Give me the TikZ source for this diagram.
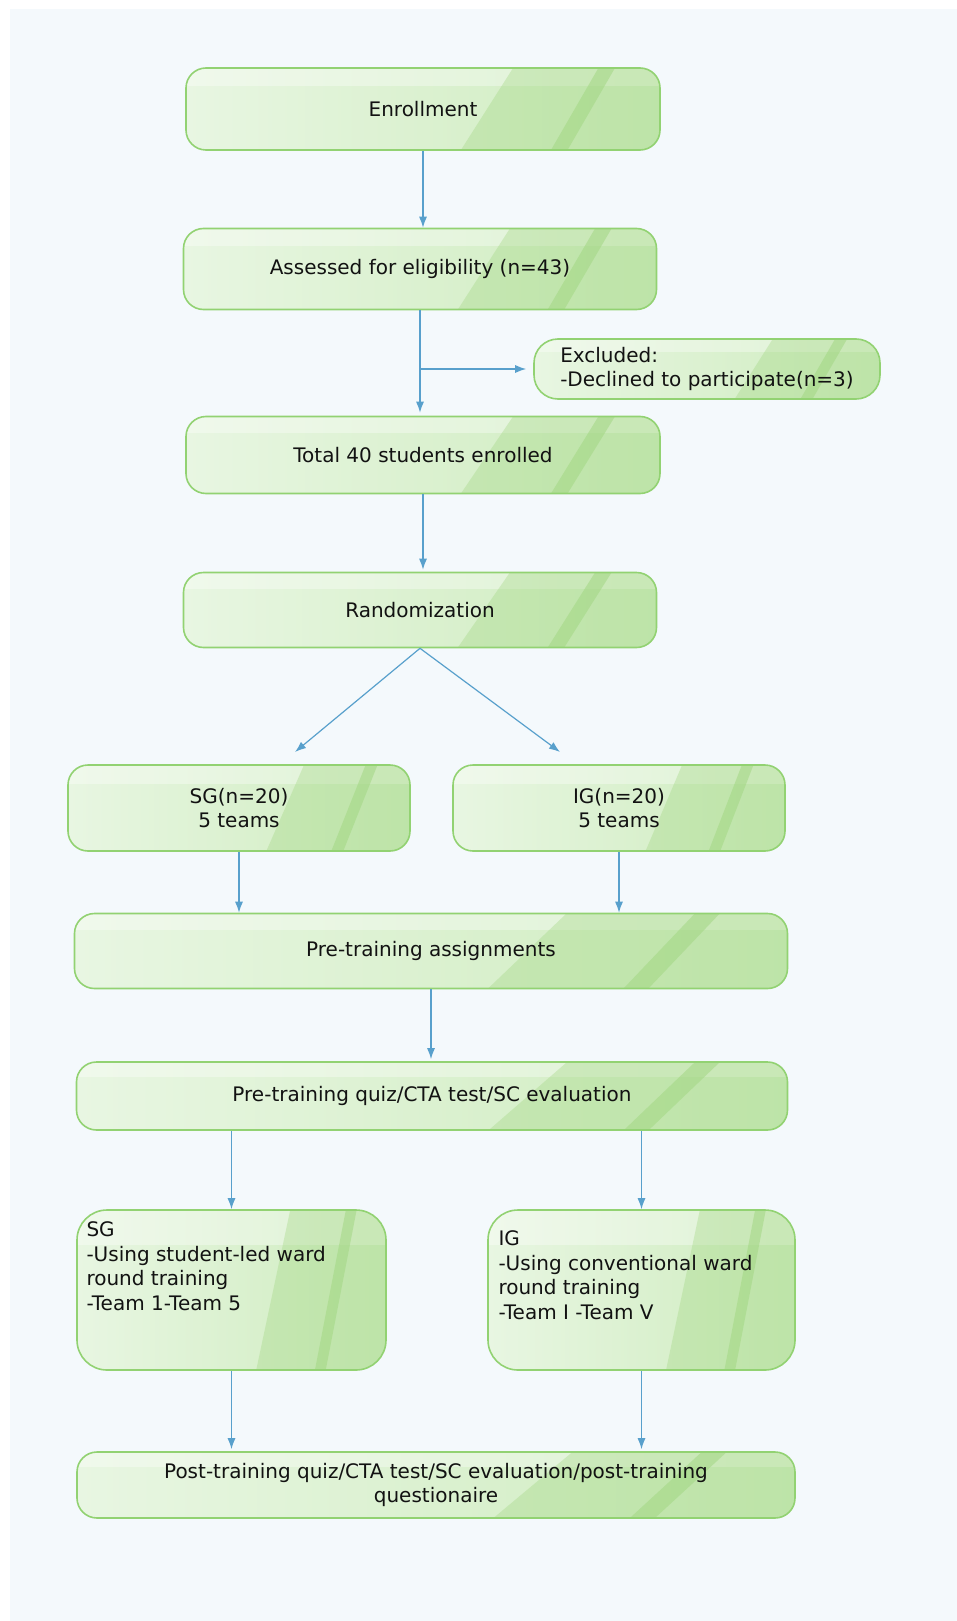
\documentclass[tikz,border=0pt]{standalone}
\usepackage{fontspec}
\setmainfont{DejaVu Sans}
\usetikzlibrary{arrows.meta,positioning,calc}
\definecolor{bgblue}{RGB}{244,249,252}
\definecolor{boxlight}{RGB}{232,246,226}
\definecolor{boxmid}{RGB}{206,236,190}
\definecolor{boxdark}{RGB}{160,214,128}
\definecolor{boxline}{RGB}{146,210,114}
\definecolor{arrblue}{RGB}{88,160,204}
\definecolor{txt}{RGB}{18,18,18}

\begin{document}
\begin{tikzpicture}[x=1pt,y=-1pt,
  every node/.style={font=\fontsize{20}{24.5}\selectfont,text=txt},
  stage/.style={draw=boxline,line width=1.6pt,rounded corners=20pt,
    left color=boxlight,right color=boxmid,align=center,inner sep=0pt,
    path picture={
      \fill[sharp corners,white,opacity=0.35] (path picture bounding box.north west) rectangle ($(path picture bounding box.north east)!0.22!(path picture bounding box.south east)$);
      \fill[sharp corners,boxdark,opacity=0.35] ($(path picture bounding box.south west)!0.58!(path picture bounding box.south east)$) -- ($(path picture bounding box.north west)!0.69!(path picture bounding box.north east)$) -- (path picture bounding box.north east) -- (path picture bounding box.south east) -- cycle;
      \fill[sharp corners,boxdark,opacity=0.5] ($(path picture bounding box.south west)!0.77!(path picture bounding box.south east)$) -- ($(path picture bounding box.north west)!0.87!(path picture bounding box.north east)$) -- ($(path picture bounding box.north west)!0.905!(path picture bounding box.north east)$) -- ($(path picture bounding box.south west)!0.805!(path picture bounding box.south east)$) -- cycle;
    }},
  arr/.style={-{Latex[length=11pt,width=8pt]},draw=arrblue,line width=1.2pt}]

\fill[bgblue] (10,9) rectangle (957,1621);
\useasboundingbox (0,0) rectangle (957,1621);

\node[stage,minimum width=474pt,minimum height=82pt] (enrol) at (423,109) {Enrollment};
\node[stage,minimum width=473pt,minimum height=81pt] (assess) at (420,269) {Assessed for eligibility (n=43)};
\node[stage,minimum width=346pt,minimum height=60pt,rounded corners=24pt,align=left] (excl) at (707,369) {Excluded:\\-Declined to participate(n=3)};
\node[stage,minimum width=474pt,minimum height=77pt] (total) at (423,455) {Total 40 students enrolled};
\node[stage,minimum width=473pt,minimum height=75pt] (rand) at (420,610) {Randomization};
\node[stage,minimum width=342pt,minimum height=86pt] (sgn) at (239,808) {SG(n=20)\\5 teams};
\node[stage,minimum width=332pt,minimum height=86pt] (ign) at (619,808) {IG(n=20)\\5 teams};
\node[stage,minimum width=713pt,minimum height=75pt] (pretask) at (431,951) {Pre-training assignments};
\node[stage,minimum width=711pt,minimum height=68pt] (prequiz) at (432,1096) {Pre-training quiz/CTA test/SC evaluation};
\node[stage,minimum width=309pt,rounded corners=30pt] (sgtrain) at (231.5,1290)
  {\parbox[c][160pt][t]{290pt}{\vspace*{12pt}SG\\-Using student-led ward\\round training\\-Team 1-Team 5}};
\node[stage,minimum width=307pt,rounded corners=30pt] (igtrain) at (641.5,1290)
  {\parbox[c][160pt][t]{286pt}{\vspace*{21pt}IG\\-Using conventional ward\\round training\\-Team I -Team V}};
\node[stage,minimum width=718pt,minimum height=66pt] (post) at (436,1485) {Post-training quiz/CTA test/SC evaluation/post-training\\questionaire};

\coordinate (sgtip) at (295,752);
\coordinate (igtip) at (560,752);

\draw[arr] (enrol.south) -- (enrol.south |- assess.north);
\draw[arr,shorten >=3pt] (assess.south) -- (assess.south |- total.north);
\draw[arr,shorten >=7pt] (assess.south |- excl.west) -- (excl.west);
\draw[arr,shorten >=2pt] (total.south) -- (total.south |- rand.north);
\draw[arr] (rand.south) -- (sgtip);
\draw[arr] (rand.south) -- (igtip);
\draw[arr] (sgn.south) -- (sgn.south |- pretask.north);
\draw[arr] (ign.south) -- (ign.south |- pretask.north);
\draw[arr,shorten >=2pt] (pretask.south) -- (pretask.south |- prequiz.north);
\draw[arr] (sgtrain.north |- prequiz.south) -- (sgtrain.north);
\draw[arr] (igtrain.north |- prequiz.south) -- (igtrain.north);
\draw[arr,shorten >=2pt] (sgtrain.south) -- (sgtrain.south |- post.north);
\draw[arr,shorten >=2pt] (igtrain.south) -- (igtrain.south |- post.north);
\end{tikzpicture}
\end{document}
